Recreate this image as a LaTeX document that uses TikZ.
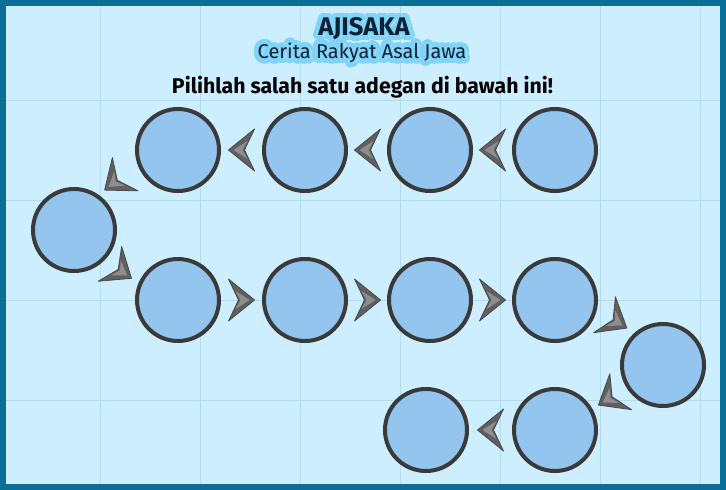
\documentclass[tikz,border=0pt]{standalone}
\usepackage{fontspec}
\setmainfont{Fira Sans}
\definecolor{bg}{HTML}{CCEEFE}
\definecolor{gridc}{HTML}{B4DAEE}
\definecolor{framec}{HTML}{0A6E96}
\definecolor{cfill}{HTML}{93C5EF}
\definecolor{cedge}{HTML}{3A3A3A}
\definecolor{dartdark}{HTML}{606060}
\definecolor{dartlight}{HTML}{8E8E8E}
\definecolor{glowc}{HTML}{7FD4F8}
\definecolor{glowsoft}{HTML}{A8E2FB}
\definecolor{navy}{HTML}{0E2236}
\newcommand\glowtext[3]{%
  \leavevmode\foreach \ga in {0,22.5,...,337.5}{%
    \pgfmathsetlengthmacro\gx{#2*cos(\ga)}\pgfmathsetlengthmacro\gy{#2*sin(\ga)}%
    \rlap{\kern\gx\raisebox{\gy}{\textcolor{#1}{#3}}}}%
  #3}
\newcommand\doubleglow[1]{\glowtext{glowsoft}{3.2pt}{\glowtext{glowc}{1.6pt}{#1}}}
\tikzset{
  scene/.style={circle, draw=cedge, fill=cfill, line width=4pt, minimum size=82pt, inner sep=0pt},
  pics/dart/.style 2 args={code={
    \begin{scope}[shift={(#1,#2)}]
      \filldraw[fill=dartdark, draw=dartdark!75!black, line width=0.8pt, line join=round]
        (13,0) -- (-13,21) -- (-3,0) -- (-13,-21) -- cycle;
      \fill[dartlight] (8,0) -- (-6,9) -- (-1,0) -- (-6,-9) -- cycle;
    \end{scope}}},
  dartat/.style={pos=0.5, sloped, allow upside down},
  gridline/.style={draw=gridc, line width=0.9pt},
}
\begin{document}
\begin{tikzpicture}[x=1pt, y=1pt]
  \useasboundingbox (0,0) rectangle (726,-490);
  \fill[bg] (0,0) rectangle (726,-490);
  \foreach \gxx in {100,200,...,700} {\draw[gridline] (\gxx,0) -- (\gxx,-490);}
  \foreach \gyy in {100,200,300,400} {\draw[gridline] (0,-\gyy) -- (726,-\gyy);}
  \draw[framec, line width=6pt] (3,-3) rectangle (723,-487);

  \node[text=navy, inner sep=0pt] (title) at (364,-29)
    {\doubleglow{\fontsize{25.5}{25.5}\selectfont\bfseries AJISAKA}};
  \node[text=navy, inner sep=0pt] (subtitle) at (362,-53)
    {\doubleglow{\fontsize{20}{20}\selectfont Cerita Rakyat Asal Jawa}};
  \node[text=black, inner sep=0pt] (prompt) at (362.5,-87)
    {\fontsize{21.3}{21.3}\selectfont\bfseries Pilihlah salah satu adegan di bawah ini!};

  \node[scene] (s1) at (555,-150) {};
  \node[scene] (s2) at (430,-150) {};
  \node[scene] (s3) at (305,-150) {};
  \node[scene] (s4) at (178,-150) {};
  \node[scene] (s5) at (74,-230) {};
  \node[scene] (s6) at (178,-300) {};
  \node[scene] (s7) at (305,-300) {};
  \node[scene] (s8) at (430,-300) {};
  \node[scene] (s9) at (555,-300) {};
  \node[scene] (s10) at (663,-365) {};
  \node[scene] (s11) at (555,-430) {};
  \node[scene] (s12) at (426,-430) {};

  \path (s1) -- pic[dartat]{dart={0}{0}} (s2);
  \path (s2) -- pic[dartat]{dart={0}{0}} (s3);
  \path (s3) -- pic[dartat]{dart={0}{0}} (s4);
  \path (s4) -- pic[dartat]{dart={4}{-13}} (s5);
  \path (s5) -- pic[dartat]{dart={-1}{-8}} (s6);
  \path (s6) -- pic[dartat]{dart={0}{0}} (s7);
  \path (s7) -- pic[dartat]{dart={0}{0}} (s8);
  \path (s8) -- pic[dartat]{dart={0}{0}} (s9);
  \path (s9) -- pic[dartat]{dart={0}{13}} (s10);
  \path (s10) -- pic[dartat]{dart={0}{1}} (s11);
  \path (s11) -- pic[dartat]{dart={0}{0}} (s12);
\end{tikzpicture}
\end{document}
